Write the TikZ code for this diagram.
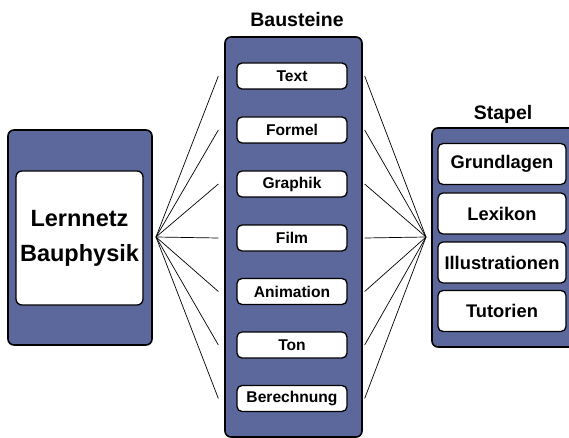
\documentclass[tikz,border=0pt]{standalone}
\usepackage{fontspec}
\setmainfont{Liberation Sans}
\definecolor{panel}{RGB}{92,103,155}
\begin{document}
\begin{tikzpicture}[x=1pt,y=-1pt,
  panelbox/.style={draw=black,line width=1.6pt,fill=panel,rounded corners=6pt},
  itembox/.style={draw=black,line width=1.3pt,fill=white,rounded corners=5pt,minimum width=110pt,minimum height=26pt,inner sep=0pt,font=\fontsize{15.6}{17}\selectfont\bfseries},
  stackbox/.style={draw=black,line width=1.3pt,fill=white,rounded corners=5pt,minimum width=128pt,minimum height=41pt,inner sep=0pt,font=\fontsize{18.3}{20}\selectfont\bfseries},
  titlelbl/.style={font=\fontsize{19.5}{22}\selectfont\bfseries,inner sep=0pt},
  fan/.style={draw=black,line width=0.7pt}]
\useasboundingbox (0,0) rectangle (569,438);
\begin{scope}
\clip (0,0) rectangle (569,438);
% left panel
\node[panelbox,minimum width=144pt,minimum height=215pt,inner sep=0pt] (L) at (80,237.5) {};
\node[draw=black,line width=1.3pt,fill=white,rounded corners=6pt,minimum width=127pt,minimum height=134pt,inner sep=0pt,align=center,font=\fontsize{23.5}{35}\selectfont\bfseries] (LI) at (79.5,238) {Lernnetz\\Bauphysik};
% middle panel
\node[panelbox,minimum width=137pt,minimum height=400pt,inner sep=0pt] (M) at (293.5,237) {};
\node[titlelbl] (Mt) at (297,20) {Bausteine};
\node[itembox] (b1) at (292,76) {Text};
\node[itembox] (b2) at (292,130) {Formel};
\node[itembox] (b3) at (292,184) {Graphik};
\node[itembox] (b4) at (292,238) {Film};
\node[itembox] (b5) at (292,291.5) {Animation};
\node[itembox] (b6) at (292,345) {Ton};
\node[itembox] (b7) at (292,398.5) {Berechnung};
% right panel
\node[panelbox,minimum width=150pt,minimum height=219pt,inner sep=0pt] (R) at (507,237.5) {};
\node[titlelbl] (Rt) at (503,114) {Stapel};
\node[stackbox] (s1) at (502,164) {Grundlagen};
\node[stackbox] (s2) at (502,213.5) {Lexikon};
\node[stackbox] (s3) at (502,262.5) {Illustrationen};
\node[stackbox] (s4) at (502,311) {Tutorien};
\end{scope}
% fan connectors
\coordinate (lf) at (156,237);
\coordinate (rf) at (426,237);
\foreach \i in {1,...,7}{
  \draw[fan] (lf) -- ([xshift=-18pt]b\i.west);
  \draw[fan] (rf) -- ([xshift=17pt]b\i.east);
}
\end{tikzpicture}
\end{document}
